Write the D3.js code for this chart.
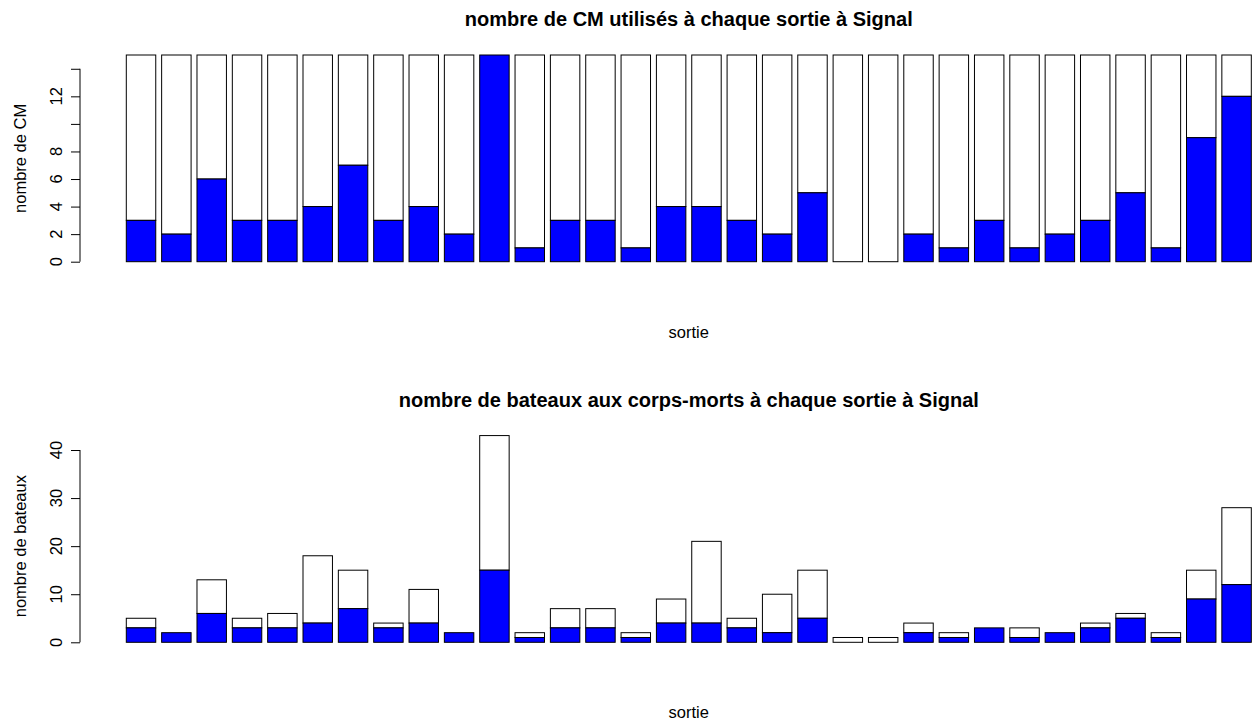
<!DOCTYPE html>
<html>
<head>
<meta charset="utf-8">
<script src="https://cdn.jsdelivr.net/npm/d3@7"></script>
<style>
  html, body { margin: 0; padding: 0; background: #fff; }
  svg { display: block; font-family: "Liberation Sans", Arial, sans-serif; }
</style>
</head>
<body>
<svg id="chart" width="1257" height="724"></svg>
<script>
// ---- data ----
const sorties = d3.range(1, 33);
const cmUtilises = [3,2,6,3,3,4,7,3,4,2,15,1,3,3,1,4,4,3,2,5,0,0,2,1,3,1,2,3,5,1,9,12];
const cmTotal = 15;
const bateauxCM = [3,2,6,3,3,4,7,3,4,2,15,1,3,3,1,4,4,3,2,5,0,0,2,1,3,1,2,3,5,1,9,12];
const bateauxTotal = [5,2,13,5,6,18,15,4,11,2,43,2,7,7,2,9,21,5,10,15,1,1,4,2,3,3,2,4,6,2,15,28];
const topTicks = [0,2,4,6,8,10,12,14];
const topTickLabels = [0,2,4,6,8,12];
const bottomTicks = [0,10,20,30,40];

const titles = ["nombre de CM utilisés à chaque sortie à Signal",
                "nombre de bateaux aux corps-morts à chaque sortie à Signal"];
const yLabels = ["nombre de CM", "nombre de bateaux"];
const xLabel = "sortie";

const svg = d3.select("#chart");
const x = d3.scaleBand().domain(sorties).range([126.3, 1251.3]).paddingInner(1/6).paddingOuter(0);

function panel(offset, yDomain, yTop, ticks, labels, blue, totals, title, ylab) {
  const y0 = 261.7 + offset;
  const y = d3.scaleLinear().domain(yDomain).range([y0, yTop + offset]);
  const g = svg.append("g");
  const data = sorties.map((s, i) => ({s, b: blue[i], t: totals[i]}));
  // white (upper) parts
  g.selectAll("rect.w").data(data).join("rect")
    .attr("x", d => x(d.s)).attr("width", x.bandwidth())
    .attr("y", d => y(d.t)).attr("height", d => y(d.b) - y(d.t))
    .attr("fill", "#fff").attr("stroke", "#000").attr("stroke-width", 1);
  // blue (lower) parts
  g.selectAll("rect.b").data(data).join("rect")
    .attr("x", d => x(d.s)).attr("width", x.bandwidth())
    .attr("y", d => y(d.b)).attr("height", d => y(0) - y(d.b))
    .attr("fill", "#0000ff").attr("stroke", "#000").attr("stroke-width", 1);
  // axis
  const ax = g.append("g").attr("transform", "translate(80,0)")
    .call(d3.axisLeft(y).tickValues(ticks).tickSize(9).tickPadding(0).tickFormat(() => ""));
  ax.select(".domain").attr("d", `M0,${y(ticks[0])}V${y(ticks[ticks.length-1])}`).attr("stroke", "#000");
  ax.selectAll(".tick line").attr("stroke", "#000");
  g.selectAll("text.tl").data(labels).join("text")
    .attr("transform", d => `translate(62,${y(d)}) rotate(-90)`)
    .attr("text-anchor", "middle").attr("font-size", "16.5px").attr("fill", "#000")
    .text(d => d);
  // titles / labels
  g.append("text").attr("x", 688.8).attr("y", 26 + offset)
    .attr("text-anchor", "middle").attr("font-size", "20px").attr("font-weight", "bold")
    .attr("fill", "#000").text(title);
  g.append("text").attr("x", 688.8).attr("y", 337.7 + offset)
    .attr("text-anchor", "middle").attr("font-size", "16.5px").attr("fill", "#000").text(xLabel);
  g.append("text").attr("transform", `translate(25.5,${(y(yDomain[1]) + y0) / 2}) rotate(-90)`)
    .attr("text-anchor", "middle").attr("font-size", "16.5px").attr("fill", "#000").text(ylab);
}

panel(0, [0, 15], 55, topTicks, topTickLabels, cmUtilises, cmUtilises.map(() => cmTotal), titles[0], yLabels[0]);
panel(380.6, [0, 40], 69.4, bottomTicks, bottomTicks, bateauxCM, bateauxTotal, titles[1], yLabels[1]);
</script>
</body>
</html>
